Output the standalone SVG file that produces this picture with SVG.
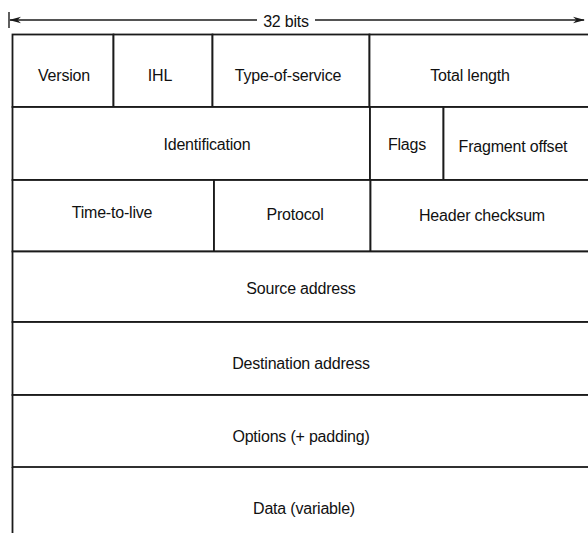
<svg xmlns="http://www.w3.org/2000/svg" width="588" height="533" viewBox="0 0 588 533">
  <defs>
    <style>
      .cell { fill: #ffffff; stroke: #1a1a1a; stroke-width: 1.8; }
      .rule { stroke: #1a1a1a; stroke-width: 1.8; fill: none; }
      .dim { stroke: #1a1a1a; stroke-width: 1.4; fill: none; }
      .lbl { font-family: "Liberation Sans", Arial, sans-serif; font-size: 16px; fill: #111111; text-anchor: middle; letter-spacing: -0.2px; }
    </style>
    <marker id="head" viewBox="0 0 12 10" refX="11" refY="5" markerWidth="12" markerHeight="10" orient="auto-start-reverse" markerUnits="userSpaceOnUse">
      <path d="M0,1.8 L12,5 L0,8.2 L3.5,5 Z" fill="#1a1a1a"/>
    </marker>
  </defs>

  <rect width="588" height="533" fill="#ffffff"/>

  <!-- width dimension: 32 bits -->
  <g id="connectors">
    <line class="dim" x1="9" y1="12" x2="9" y2="28"/>
    <line class="dim" x1="10" y1="20" x2="257" y2="20" marker-start="url(#head)"/>
    <line class="dim" x1="315" y1="20" x2="584" y2="20" marker-end="url(#head)"/>
  </g>
  <g id="width-label">
    <text class="lbl" x="286" y="26.5">32 bits</text>
  </g>

  <!-- row 1 -->
  <g id="version"><rect class="cell" x="12.5" y="34.5" width="101" height="72.5"/><text class="lbl" x="64" y="81">Version</text></g>
  <g id="ihl"><rect class="cell" x="113.5" y="34.5" width="99" height="72.5"/><text class="lbl" x="160" y="81">IHL</text></g>
  <g id="type-of-service"><rect class="cell" x="212.5" y="34.5" width="157" height="72.5"/><text class="lbl" x="288" y="81">Type-of-service</text></g>
  <g id="total-length"><rect class="cell" x="369.5" y="34.5" width="222" height="72.5"/><text class="lbl" x="470" y="81">Total length</text></g>

  <!-- row 2 -->
  <g id="identification"><rect class="cell" x="12.5" y="107" width="357.5" height="73"/><text class="lbl" x="207" y="149.5">Identification</text></g>
  <g id="flags"><rect class="cell" x="370" y="107" width="73.5" height="73"/><text class="lbl" x="407" y="150">Flags</text></g>
  <g id="fragment-offset"><rect class="cell" x="443.5" y="107" width="148" height="73"/><text class="lbl" x="513" y="151.5">Fragment offset</text></g>

  <!-- row 3 -->
  <g id="time-to-live"><rect class="cell" x="12.5" y="180" width="201.5" height="71.5"/><text class="lbl" x="112" y="218">Time-to-live</text></g>
  <g id="protocol"><rect class="cell" x="214" y="180" width="156.5" height="71.5"/><text class="lbl" x="295" y="220">Protocol</text></g>
  <g id="header-checksum"><rect class="cell" x="370.5" y="180" width="221" height="71.5"/><text class="lbl" x="482" y="221">Header checksum</text></g>

  <!-- full-width rows -->
  <g id="source-address"><rect class="cell" x="12.5" y="251.5" width="579" height="70.5"/><text class="lbl" x="301" y="293.5">Source address</text></g>
  <g id="destination-address"><rect class="cell" x="12.5" y="322" width="579" height="73"/><text class="lbl" x="301" y="368.5">Destination address</text></g>
  <g id="options"><rect class="cell" x="12.5" y="395" width="579" height="72"/><text class="lbl" x="301" y="441.5">Options (+ padding)</text></g>
  <g id="data">
    <line class="rule" x1="12.5" y1="467" x2="12.5" y2="533"/>
    <text class="lbl" x="304" y="513.5">Data (variable)</text>
  </g>
</svg>
